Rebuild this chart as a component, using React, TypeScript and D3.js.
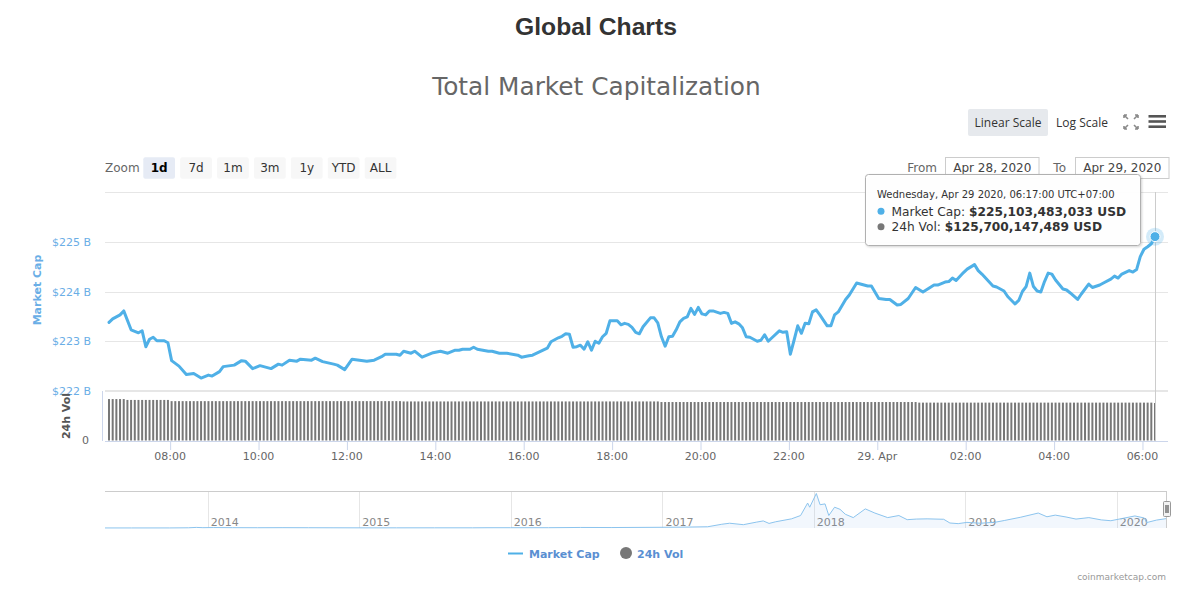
import React from "react";
import * as d3 from "d3";

// ---------- DATA ----------
// Market cap (billions USD); capStep = number of 5-minute steps after 06:37, Apr 28 2020 (UTC+7)
const capStep = [0,1,2,3,4,6,8,9,10,11,12,13,15,16,17,19,21,23,25,27,28,30,31,34,36,37,39,41,44,46,47,49,51,52,55,56,58,61,62,64,66,67,70,72,74,75,78,79,80,82,83,85,88,90,92,94,95,96,98,99,100,103,104,106,108,111,112,114,115,117,119,120,122,123,124,125,126,127,128,129,130,131,132,133,134,135,136,138,139,140,141,142,143,144,145,147,148,149,150,151,152,153,154,155,156,157,158,159,160,161,162,163,164,166,167,168,169,170,171,172,173,174,176,177,178,179,180,182,183,184,185,186,187,188,189,190,191,192,193,195,196,197,198,200,201,203,204,206,207,209,211,212,214,215,217,219,221,224,225,227,228,229,230,232,233,235,236,237,240,241,243,244,246,247,248,249,250,251,252,253,254,255,256,257,259,260,261,263,264,266,267,269,270,272,273,274,275,277,278,279,280,281,282,283,284];
const capValue = [223.38,223.45,223.49,223.53,223.61,223.23,223.17,223.21,222.89,223.04,223.08,223.01,223.01,222.97,222.61,222.50,222.33,222.35,222.26,222.32,222.30,222.39,222.49,222.52,222.61,222.60,222.45,222.51,222.45,222.54,222.52,222.62,222.60,222.64,222.62,222.66,222.59,222.54,222.52,222.43,222.64,222.63,222.60,222.62,222.69,222.74,222.74,222.72,222.80,222.76,222.80,222.68,222.77,222.80,222.76,222.82,222.82,222.84,222.84,222.88,222.84,222.80,222.80,222.76,222.76,222.72,222.68,222.71,222.72,222.79,222.86,222.99,223.07,223.10,223.15,223.14,222.88,222.89,222.92,222.84,222.99,222.82,223.00,222.96,223.09,223.16,223.41,223.41,223.33,223.36,223.34,223.28,223.18,223.15,223.29,223.47,223.47,223.37,223.09,222.90,223.09,223.10,223.23,223.39,223.46,223.49,223.66,223.54,223.68,223.55,223.53,223.61,223.61,223.56,223.58,223.56,223.36,223.39,223.35,223.27,223.09,223.08,223.00,223.02,223.13,223.00,223.07,223.21,223.18,223.19,222.74,223.02,223.31,223.16,223.36,223.35,223.59,223.63,223.53,223.31,223.31,223.53,223.59,223.84,223.93,224.17,224.15,224.11,224.11,223.86,223.84,223.84,223.73,223.74,223.86,224.08,223.99,224.13,224.13,224.19,224.20,224.27,224.22,224.38,224.45,224.54,224.42,224.35,224.11,224.09,224.01,223.90,223.75,223.82,224.00,224.10,224.37,224.10,224.01,223.99,224.20,224.37,224.35,224.23,224.05,224.03,223.97,223.84,223.95,224.15,224.08,224.13,224.17,224.25,224.31,224.27,224.35,224.42,224.39,224.44,224.70,224.85,224.90,224.96,225.103];

// 24h volume (billions USD), one per 5-minute step
const volValue = [
139,139,139,139,139,136,136,136,136,136,136,136,136,136,136,136,136,132,132,132,
132,132,132,132,132,132,132,132,132,132,132,132,132,132,132,132,132,132,132,132,
132,132,132,132,132,132,132,132,132,132,132,132,132,132,132,132,132,132,132,132,
132,132,132,132,132,132,132,132,132,132,132,132,132,132,132,132,132,132,132,132,
131,131,131,131,131,131,131,131,131,131,131,131,131,131,131,131,131,131,131,131,
131,131,131,131,131,131,131,131,131,131,131,131,131,131,131,131,131,131,131,131,
131,131,131,131,131,131,131,131,131,131,131,131,131,131,131,131,131,131,131,131,
131,131,131,131,131,131,131,131,131,131,129,129,129,129,129,129,129,129,129,129,
129,129,129,129,129,129,129,129,129,129,129,129,129,129,129,129,129,129,129,129,
129,129,129,129,129,129,129,129,129,129,129,129,129,129,129,129,129,129,129,129,
129,129,129,129,129,129,129,129,129,129,129,129,129,129,129,129,129,129,129,129,
127,127,127,127,127,127,127,127,127,127,127,127,127,127,127,127,127,127,127,127,
127,127,127,127,127,127,127,127,127,127,127,127,127,127,127,127,127,127,127,127,
127,127,127,127,127,127,127,127,127,127,127,127,127,127,127,127,127,127,127,127,
127,127,127,127,125.7
];

// Navigator: total market cap history (billions USD)
const navDate = ["2013-04-28","2013-07-01","2013-10-01","2013-11-15","2013-12-04","2013-12-20","2014-01-15","2014-03-01","2014-05-01","2014-07-01","2014-09-01","2014-11-01","2015-01-15","2015-04-01","2015-07-01","2015-10-01","2015-11-05","2016-01-01","2016-04-01","2016-06-17","2016-09-01","2016-12-31","2017-03-01","2017-04-20","2017-05-24","2017-06-12","2017-07-15","2017-08-15","2017-09-01","2017-09-15","2017-10-01","2017-11-08","2017-11-30","2017-12-17","2017-12-22","2018-01-07","2018-01-16","2018-01-28","2018-02-06","2018-02-20","2018-03-05","2018-03-18","2018-04-06","2018-05-05","2018-05-28","2018-06-28","2018-07-25","2018-08-14","2018-09-05","2018-10-01","2018-11-10","2018-11-25","2018-12-15","2019-01-05","2019-02-07","2019-03-15","2019-04-05","2019-05-15","2019-06-26","2019-07-17","2019-08-06","2019-09-01","2019-09-25","2019-10-26","2019-11-25","2019-12-18","2020-01-15","2020-02-14","2020-03-08","2020-03-13","2020-04-06","2020-04-29"];
const navValue = [1.5,1.2,1.6,5,14,8,11,8,6.5,8,6.5,5,3.5,3.8,4.3,4.3,6.5,7,7.5,13,11,17,22,30,90,115,80,140,170,110,150,220,300,600,500,830,560,580,300,500,450,330,250,460,360,250,300,200,215,220,210,120,105,135,115,140,180,260,360,270,310,265,215,250,195,175,230,290,240,130,190,225];
const navYears = [2014,2015,2016,2017,2018,2019,2020];

const capGrid = [223, 224, 225, 226];
const capLabels = [222, 223, 224, 225];
const zoomButtons = ["1d", "7d", "1m", "3m", "1y", "YTD", "ALL"];
const legendItems = ["Market Cap", "24h Vol"];

// ---------- STYLE ----------
const HC = '"Lucida Grande", "Lucida Sans Unicode", "DejaVu Sans", sans-serif';
const LINE = "#4fb0e7";
const AXIS_BLUE = "#6aaee6";
const VOL = "#777777";

const START = Date.UTC(2020, 3, 28, 6, 37); // wall-clock UTC+7 stored as UTC
const stepTime = (i: number) => new Date(START + i * 5 * 60000);

export default function App() {
  const n = volValue.length;
  const x = d3.scaleUtc().domain([stepTime(0), stepTime(n - 1)]).range([109, 1155]);
  const yCap = d3.scaleLinear().domain([222, 226]).range([391, 192]);
  const yVol = d3.scaleLinear().domain([0, 166]).range([440.5, 391]);

  const linePath = d3
    .line<number>()
    .x((_, k) => x(stepTime(capStep[k])))
    .y((v) => yCap(v))(capValue) as string;

  const ticks = x.ticks(d3.utcHour.every(2) as any);
  const fmtTick = (d: Date) =>
    d.getUTCHours() === 0 ? d3.utcFormat("%-d. %b")(d) : d3.utcFormat("%H:%M")(d);

  const lastX = x(stepTime(capStep[capStep.length - 1]));
  const lastY = yCap(capValue[capValue.length - 1]);

  // navigator
  const parse = d3.utcParse("%Y-%m-%d");
  const navDates = navDate.map((s) => parse(s) as Date);
  const xNav = d3.scaleUtc().domain([parse("2013-04-28") as Date, parse("2020-04-29") as Date]).range([105, 1166]);
  const yNav = d3.scaleLinear().domain([0, d3.max(navValue) as number]).range([528, 493.5]);
  const navLine = d3.line<number>().x((_, k) => xNav(navDates[k])).y((v) => yNav(v))(navValue) as string;
  const navArea = d3
    .area<number>()
    .x((_, k) => xNav(navDates[k]))
    .y0(528)
    .y1((v) => yNav(v))(navValue) as string;

  const btnX0 = 143.3;
  const btnStep = 36.9;

  return (
    <svg
      width={1191}
      height={599}
      style={{ position: "absolute", left: 0, top: 0, background: "#fff" }}
      fontFamily={HC}
    >
      <defs>
        <filter id="shadow" x="-10%" y="-10%" width="130%" height="140%">
          <feDropShadow dx="1" dy="1" stdDeviation="1.2" floodColor="#000" floodOpacity="0.18" />
        </filter>
      </defs>
      <rect x={0} y={0} width={1191} height={599} fill="#fff" />

      {/* Headings */}
      <text x={596} y={35} textAnchor="middle" fontFamily="'Liberation Sans', Arial, sans-serif" fontWeight="bold" fontSize={24.7} fill="#333">
        Global Charts
      </text>
      <text x={596.5} y={94.5} textAnchor="middle" fontSize={24.8} fill="#666">
        Total Market Capitalization
      </text>

      {/* scale buttons */}
      <rect x={968} y={109} width={80} height={27} rx={2} fill="#e6e9ed" />
      <text x={1008} y={126.5} textAnchor="middle" fontFamily="'Open Sans', sans-serif" fontSize={12} fill="#333">Linear Scale</text>
      <text x={1082} y={126.5} textAnchor="middle" fontFamily="'Open Sans', sans-serif" fontSize={12} fill="#333">Log Scale</text>
      {/* fullscreen icon */}
      <g stroke="#8a8a8a" strokeWidth={1.6} fill="none">
        <path d="M1124,115 L1128,119 M1124,115 L1127,115 M1124,115 L1124,118" />
        <path d="M1138,115 L1134,119 M1138,115 L1135,115 M1138,115 L1138,118" />
        <path d="M1124,129 L1128,125 M1124,129 L1127,129 M1124,129 L1124,126" />
        <path d="M1138,129 L1134,125 M1138,129 L1135,129 M1138,129 L1138,126" />
      </g>
      {/* menu icon */}
      <g stroke="#555" strokeWidth={2.6}>
        <line x1={1148.5} x2={1166} y1={116.3} y2={116.3} />
        <line x1={1148.5} x2={1166} y1={121.5} y2={121.5} />
        <line x1={1148.5} x2={1166} y1={126.7} y2={126.7} />
      </g>

      {/* Range selector */}
      <text x={105} y={172} fontSize={12} fill="#666">Zoom</text>
      {zoomButtons.map((b, i) => (
        <g key={b}>
          <rect x={btnX0 + i * btnStep} y={157.3} width={31.7} height={21.5} rx={2} fill={i === 0 ? "#e6ebf5" : "#f7f7f7"} />
          <text
            x={btnX0 + i * btnStep + 15.85}
            y={172}
            textAnchor="middle"
            fontSize={12}
            fontWeight={i === 0 ? "bold" : "normal"}
            fill={i === 0 ? "#000" : "#333"}
          >
            {b}
          </text>
        </g>
      ))}
      <text x={937} y={172} textAnchor="end" fontSize={12} fill="#666">From</text>
      <rect x={945.5} y={157.5} width={93.5} height={21} fill="#fff" stroke="#cccccc" />
      <text x={992.3} y={172} textAnchor="middle" fontSize={12} fill="#444">Apr 28, 2020</text>
      <text x={1066} y={172} textAnchor="end" fontSize={12} fill="#666">To</text>
      <rect x={1075.5} y={157.5} width={93.5} height={21} fill="#fff" stroke="#cccccc" />
      <text x={1122.3} y={172} textAnchor="middle" fontSize={12} fill="#444">Apr 29, 2020</text>

      {/* grid lines */}
      {capGrid.map((v) => (
        <line key={v} x1={105} x2={1168} y1={Math.round(yCap(v)) + 0.5} y2={Math.round(yCap(v)) + 0.5} stroke="#e6e6e6" />
      ))}
      {/* pane separator */}
      <line x1={105} x2={1168} y1={391} y2={391} stroke="#e6e6e6" strokeWidth={2} />

      {/* y labels */}
      {capLabels.map((v) => (
        <text key={v} x={91} y={yCap(v) + 4} textAnchor="end" fontSize={11} fill={AXIS_BLUE}>
          {`$${v} B`}
        </text>
      ))}
      <text transform="translate(41,290) rotate(-90)" textAnchor="middle" fontSize={11} fontWeight="bold" fill={AXIS_BLUE}>
        Market Cap
      </text>
      <text transform="translate(69.5,416) rotate(-90)" textAnchor="middle" fontSize={11} fontWeight="bold" fill="#555">
        24h Vol
      </text>
      <text x={89} y={444} textAnchor="end" fontSize={11} fill="#666">0</text>

      {/* volume bars */}
      {volValue.map((v, i) => {
        const cx = x(stepTime(i));
        return <rect key={i} x={cx - 1} y={yVol(v)} width={2} height={yVol(0) - yVol(v)} fill={VOL} />;
      })}
      {/* vol axis line */}
      <line x1={102.5} x2={102.5} y1={391} y2={441} stroke="#ccd6eb" />

      {/* x axis */}
      <line x1={105} x2={1168} y1={441.5} y2={441.5} stroke="#ccd6eb" />
      {ticks.map((t, i) => (
        <g key={i}>
          <line x1={x(t) + 0.5} x2={x(t) + 0.5} y1={441} y2={450} stroke="#ccd6eb" />
          <text x={x(t)} y={460} textAnchor="middle" fontSize={11} fill="#666">
            {fmtTick(t)}
          </text>
        </g>
      ))}

      {/* crosshair */}
      <line x1={Math.round(lastX) + 0.5} x2={Math.round(lastX) + 0.5} y1={192} y2={441} stroke="#cccccc" />

      {/* market cap line */}
      <path d={linePath} fill="none" stroke={LINE} strokeWidth={3} strokeLinejoin="round" strokeLinecap="round" />
      <circle cx={lastX} cy={lastY} r={9} fill={LINE} opacity={0.25} />
      <circle cx={lastX} cy={lastY} r={5} fill={LINE} stroke="#fff" strokeWidth={1} />

      {/* tooltip */}
      <g filter="url(#shadow)">
        <rect x={865.5} y={174.5} width={275} height={71} rx={3} fill="rgba(255,255,255,0.96)" stroke="#b0b0b0" />
      </g>
      <text x={877} y={198} fontSize={10} fill="#333">Wednesday, Apr 29 2020, 06:17:00 UTC+07:00</text>
      <circle cx={881} cy={211.3} r={3.5} fill={LINE} />
      <text x={891.5} y={215.5} fontSize={12.2} fill="#333">
        Market Cap: <tspan fontWeight="bold">$225,103,483,033 USD</tspan>
      </text>
      <circle cx={881} cy={226.7} r={3.5} fill={VOL} />
      <text x={891.5} y={231} fontSize={12.2} fill="#333">
        24h Vol: <tspan fontWeight="bold">$125,700,147,489 USD</tspan>
      </text>

      {/* navigator */}
      {navYears.map((yr) => {
        const xx = xNav(new Date(Date.UTC(yr, 0, 1)));
        return (
          <g key={yr}>
            <line x1={Math.round(xx) + 0.5} x2={Math.round(xx) + 0.5} y1={491} y2={528} stroke="#e6e6e6" />
            <text x={xx + 3} y={526} fontSize={11} fill="#888">{yr}</text>
          </g>
        );
      })}
      <path d={navArea} fill="rgba(124,181,236,0.1)" />
      <path d={navLine} fill="none" stroke="#8cc4ee" strokeWidth={1} />
      <line x1={105} x2={1166} y1={491.5} y2={491.5} stroke="#cccccc" />
      <line x1={1166.5} x2={1166.5} y1={491} y2={528} stroke="#cccccc" />
      <rect x={1163.5} y={501.5} width={7} height={15} rx={1} fill="#f2f2f2" stroke="#999" />
      <line x1={1166} x2={1166} y1={505} y2={513} stroke="#333" />
      <line x1={1168} x2={1168} y1={505} y2={513} stroke="#333" />

      {/* legend */}
      <line x1={508} x2={523} y1={553.5} y2={553.5} stroke={LINE} strokeWidth={2} />
      <text x={529} y={558} fontSize={11} fontWeight="bold" fill="#5a8fd2">{legendItems[0]}</text>
      <circle cx={626} cy={553} r={6} fill={VOL} />
      <text x={637} y={558} fontSize={11} fontWeight="bold" fill="#5a8fd2">{legendItems[1]}</text>

      {/* credits */}
      <text x={1166} y={580} textAnchor="end" fontSize={9} fill="#999">coinmarketcap.com</text>
    </svg>
  );
}
